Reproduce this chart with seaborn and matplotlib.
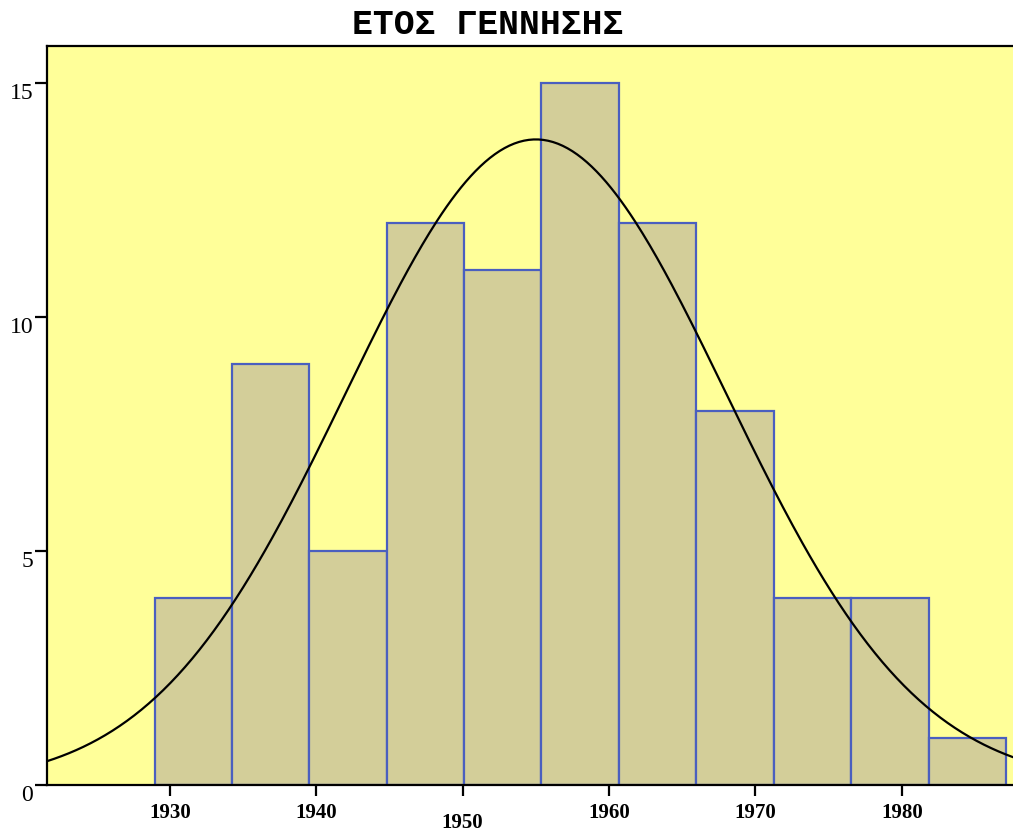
import matplotlib
matplotlib.use("Agg")
import matplotlib.pyplot as plt
import numpy as np
import seaborn as sns

# birth-year histogram (SPSS style)
bin_edges = [1928.97, 1934.24, 1939.50, 1944.83, 1950.10, 1955.36,
             1960.69, 1965.95, 1971.29, 1976.55, 1981.88, 1987.14]
counts = [4, 9, 5, 12, 11, 15, 12, 8, 4, 4, 1]
x_ticks = [1930, 1940, 1950, 1960, 1970, 1980]
y_ticks = [0, 5, 10, 15]
fit_mean = 1955.0
fit_sd = 13.0
title = "ΕΤΟΣ ΓΕΝΝΗΣΗΣ"

sns.set_style("ticks")
plt.rcParams["font.family"] = ["Liberation Serif", "DejaVu Serif"]
plt.rcParams["text.color"] = "black"
plt.rcParams["xtick.color"] = "black"
plt.rcParams["ytick.color"] = "black"

fig = plt.figure(figsize=(10.13, 8.32), dpi=100)
ax = fig.add_axes([47 / 1013, 1 - 785 / 832, (1013 - 47) / 1013, (785 - 46) / 832])
ax.set_facecolor("#FFFF99")

centers = [(a + b) / 2 for a, b in zip(bin_edges[:-1], bin_edges[1:])]
sns.histplot(
    x=centers,
    weights=counts,
    bins=bin_edges,
    color="#D3CE99",
    edgecolor="#4A5FBF",
    linewidth=1.6,
    alpha=1.0,
    ax=ax,
)

# normal curve scaled to counts
n_total = sum(counts)
width = (bin_edges[-1] - bin_edges[0]) / len(counts)
xs = np.linspace(1921.6, 1987.6, 400)
ys = n_total * width / (fit_sd * np.sqrt(2 * np.pi)) * np.exp(-0.5 * ((xs - fit_mean) / fit_sd) ** 2)
sns.lineplot(x=xs, y=ys, color="black", linewidth=1.6, ax=ax)

ax.set_xlim(1921.6, 1987.6)
ax.set_ylim(0, 15.79)
ax.set_xticks(x_ticks)
ax.set_xticklabels([str(t) for t in x_ticks], fontweight="bold", fontsize=15, color="black")
ax.set_yticks(y_ticks)
ax.set_yticklabels([str(t) for t in y_ticks], fontsize=17, va="top", color="black")
ax.tick_params(axis="x", length=8, width=1.6, pad=5, color="black")
ax.tick_params(axis="y", length=9, width=1.6, pad=1, color="black")
ax.xaxis.get_major_ticks()[2].set_pad(12)
ax.set_xlabel("")
ax.set_ylabel("")

for side in ["left", "top", "bottom"]:
    ax.spines[side].set_visible(True)
    ax.spines[side].set_color("black")
    ax.spines[side].set_linewidth(1.6)
ax.spines["right"].set_visible(False)

fig.text(488 / 1013, 1 - 25 / 832, title, ha="center", va="center", color="black",
         fontsize=25, fontweight="bold", family=["Liberation Mono", "DejaVu Sans Mono"])

fig.savefig("out.png", dpi=100)
